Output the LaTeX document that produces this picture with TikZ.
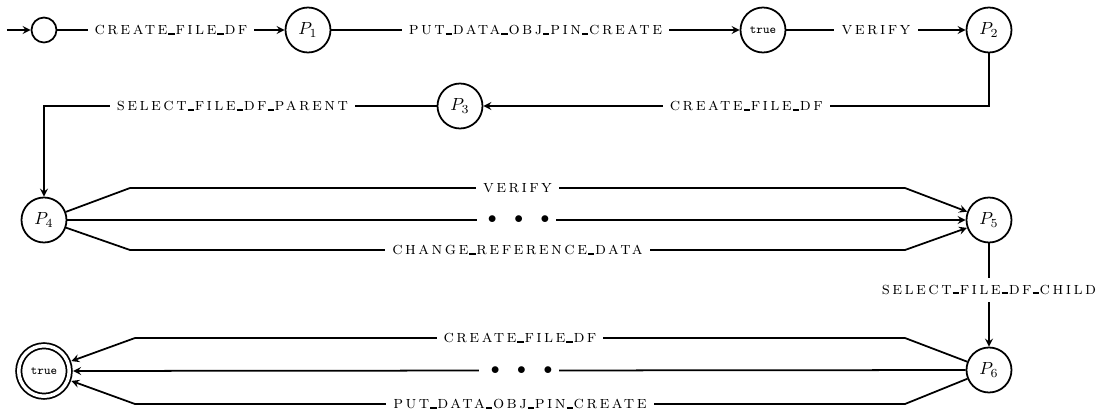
\documentclass[tikz,border=0pt]{standalone}
\usepackage{amsmath}
\usepackage{fontspec}
\usepackage{tikz}
\newfontfamily\lblfont{lmromancaps10-regular}[Extension=.otf, LetterSpace=14]
\newcommand{\usc}{\kern.05em\rule{.36em}{.11em}\kern.05em}
\newcommand{\threedots}{\hspace{2.5pt}${\bullet}\quad{\bullet}\quad{\bullet}$\hspace{9.5pt}}

\begin{document}
\begin{tikzpicture}[every circle node/.style={draw, inner sep=0pt},
    line width=1pt, >=stealth,
    state/.style={minimum size=0.9cm},
    initst/.style={minimum size=0.5cm},
    lbl/.style={fill=white, font=\lblfont, inner sep=4pt},
    final/.style={double, double distance=2pt, minimum size=1.01cm, outer sep=2.2pt}]
            \useasboundingbox (-0.88, 0.6) rectangle (21.1, -7.62);
            \coordinate (start) at (-0.74, 0);
            \draw (0, 0) node[circle, initst](s0){};
            \draw (5.28, 0) node[circle, state](P1){$P_1$};
            \draw (14.38, 0) node[circle, state](t1){\scriptsize\ttfamily true};
            \draw (18.9, 0) node[circle, state](P2){$P_2$};
            \draw (8.32, -1.52) node[circle, state](P3){$P_3$};
            \draw (0, -3.8) node[circle, state](P4){$P_4$};
            \draw (18.9, -3.8) node[circle, state](P5){$P_5$};
            \draw (18.9, -6.8) node[circle, state](P6){$P_6$};
            \draw (0, -6.82) node[circle, final](t2){\scriptsize\ttfamily true};
            \draw[->] (start) -- (s0);
            \draw[->] (s0) -- node[lbl]{create\usc file\usc df} (P1);
            \draw[->] (P1) -- node[lbl]{put\usc data\usc obj\usc pin\usc create} (t1);
            \draw[->] (t1) -- node[lbl]{verify} (P2);
            \draw[->] (P2) |- node[lbl, pos=0.74]{create\usc file\usc df} (P3);
            \draw[->] (P3) -| node[lbl, pos=0.26]{select\usc file\usc df\usc parent} (P4);
            \draw[->] (P4) -- (1.72, -3.16) -- node[lbl]{verify} (17.22, -3.16) -- (P5);
            \draw[->] (P4) -- node[lbl]{\threedots} (P5);
            \draw[->] (P4) -- (1.72, -4.4) -- node[lbl]{change\usc reference\usc data} (17.22, -4.4) -- (P5);
            \draw[->] (P5) -- node[lbl, pos=0.45]{select\usc file\usc df\usc child} (P6);
            \draw[->] (P6) -- (17.22, -6.16) -- node[lbl]{create\usc file\usc df} (1.82, -6.16) -- (t2);
            \draw[->] (P6) -- node[lbl]{\threedots} (t2);
            \draw[->] (P6) -- (17.22, -7.48) -- node[lbl]{put\usc data\usc obj\usc pin\usc create} (1.82, -7.48) -- (t2);
        \end{tikzpicture}
\end{document}
